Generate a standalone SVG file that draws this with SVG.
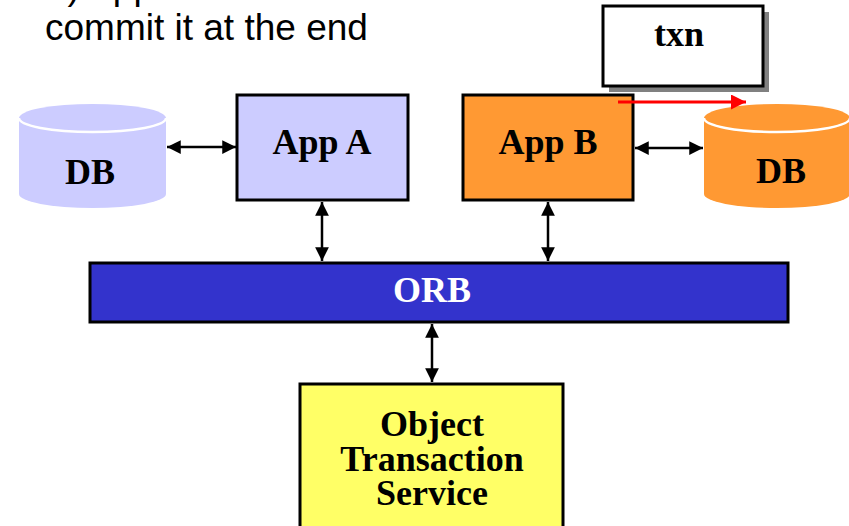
<svg xmlns="http://www.w3.org/2000/svg" width="849" height="526" viewBox="0 0 849 526">
<defs>
<style>
.lbl{font-family:"Liberation Serif","Times New Roman",serif;font-weight:bold;font-size:36px;text-anchor:middle;fill:#000}
.top{font-family:"Liberation Sans",Arial,sans-serif;font-size:37px;fill:#000}
.box{stroke:#000;stroke-width:3}
.conn{stroke:#000;stroke-width:2.5;fill:none}
.rim{stroke:#fff;stroke-width:2.5;fill:none}
</style>
<marker id="ah" viewBox="0 0 10 10" refX="10" refY="5" markerWidth="6" markerHeight="5.5" markerUnits="strokeWidth" orient="auto-start-reverse">
<path d="M0,0 L10,5 L0,10 Z" fill="#000"/>
</marker>
<marker id="ahr" viewBox="0 0 10 10" refX="10" refY="5" markerWidth="6" markerHeight="5" markerUnits="strokeWidth" orient="auto">
<path d="M0,0 L10,5 L0,10 Z" fill="#ff0000"/>
</marker>
</defs>
<rect width="849" height="526" fill="#fff"/>
<g id="caption">
<text class="top" x="47" y="-1">4) App B uses its own database as</text>
<text class="top" x="45" y="40">commit it at the end</text>
</g>
<g id="txn">
<rect x="609" y="12" width="160" height="80" fill="#808080"/>
<rect class="box" x="603" y="6" width="160" height="80" fill="#fff"/>
<text class="lbl" x="679" y="46">txn</text>
</g>
<g id="dbA">
<path d="M19,118 L19,194 A73.5,14 0 0 0 166,194 L166,118 A73.5,14 0 0 0 19,118 Z" fill="#ccccff"/>
<path class="rim" d="M19,118 A73.5,14 0 0 0 166,118"/>
<text class="lbl" x="90" y="184">DB</text>
</g>
<g id="appA">
<rect class="box" x="237" y="95" width="171" height="105" fill="#ccccff"/>
<text class="lbl" x="322" y="154">App A</text>
</g>
<g id="appB">
<rect class="box" x="463" y="95" width="170" height="105" fill="#ff9933"/>
<text class="lbl" x="548" y="154">App B</text>
</g>
<g id="dbB">
<path d="M704,118 L704,194 A73,14 0 0 0 850,194 L850,118 A73,14 0 0 0 704,118 Z" fill="#ff9933"/>
<path class="rim" d="M704,118 A73,14 0 0 0 850,118"/>
<text class="lbl" x="781" y="183">DB</text>
</g>
<g id="orb">
<rect class="box" x="90" y="263" width="698" height="59" fill="#3333cc"/>
<text class="lbl" x="432" y="302" style="fill:#fff">ORB</text>
</g>
<g id="ots">
<rect class="box" x="300" y="384" width="263" height="150" fill="#ffff66"/>
<text class="lbl" x="432" y="436">Object</text>
<text class="lbl" x="432" y="471">Transaction</text>
<text class="lbl" x="432" y="505">Service</text>
</g>
<g id="connectors">
<line class="conn" x1="167" y1="147" x2="236" y2="147" marker-start="url(#ah)" marker-end="url(#ah)"/>
<line class="conn" x1="635" y1="148" x2="703" y2="148" marker-start="url(#ah)" marker-end="url(#ah)"/>
<line class="conn" x1="322" y1="202" x2="322" y2="261" marker-start="url(#ah)" marker-end="url(#ah)"/>
<line class="conn" x1="548" y1="202" x2="548" y2="261" marker-start="url(#ah)" marker-end="url(#ah)"/>
<line class="conn" x1="432" y1="324" x2="432" y2="382" marker-start="url(#ah)" marker-end="url(#ah)"/>
<line x1="618" y1="102" x2="746" y2="102" stroke="#ff0000" stroke-width="3" marker-end="url(#ahr)"/>
</g>
</svg>
